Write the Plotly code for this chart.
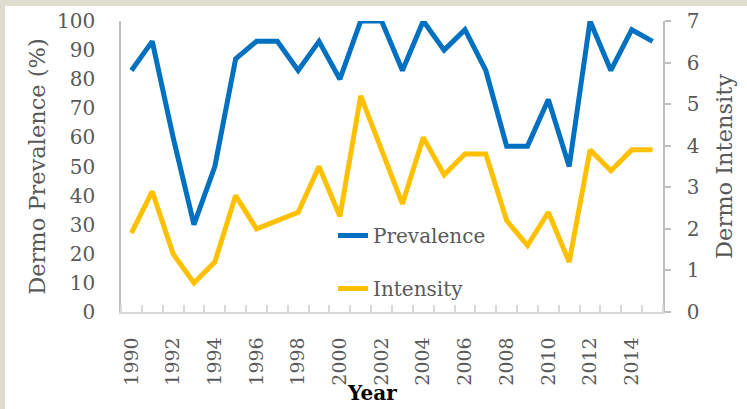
import plotly.graph_objects as go

years = list(range(1990, 2016))
prevalence = [83, 93, 60, 30, 50, 87, 93, 93, 83, 93, 80, 100, 100,
              83, 100, 90, 97, 83, 57, 57, 73, 50, 100, 83, 97, 93]
intensity = [1.9, 2.9, 1.4, 0.7, 1.2, 2.8, 2.0, 2.2, 2.4, 3.5, 2.3, 5.2, 3.9,
             2.6, 4.2, 3.3, 3.8, 3.8, 2.2, 1.6, 2.4, 1.2, 3.9, 3.4, 3.9, 3.9]
x_labels = [str(y) for y in range(1990, 2016, 2)]

FONT = "DejaVu Serif"
GRAY_TXT = "#595959"
BLUE = "#0070C0"
YELLOW = "#FFC000"
FRAME = "#DEDDD0"

fig = go.Figure()
fig.add_trace(go.Scatter(x=years, y=prevalence, name="Prevalence", mode="lines",
                         line=dict(color=BLUE, width=5), legendgroup="a", yaxis="y"))
fig.add_trace(go.Scatter(x=years, y=intensity, name="Intensity", mode="lines",
                         line=dict(color=YELLOW, width=5), legendgroup="b", yaxis="y2"))

L, R, T, B = 121, 84, 21, 97
W, H = 747, 409
pw, ph = W - L - R, H - T - B

def px2x(px):
    return (px - L) / pw

def py2y(py):
    return (H - B - py) / ph

fig.update_layout(
    width=W, height=H,
    margin=dict(l=L, r=R, t=T, b=B, autoexpand=False),
    paper_bgcolor="white",
    plot_bgcolor="white",
    font=dict(family=FONT, color=GRAY_TXT, size=19),
    showlegend=True,
    legend=dict(x=px2x(333), y=py2y(216), xanchor="left", yanchor="top",
                bgcolor="rgba(0,0,0,0)", font=dict(size=20, color=GRAY_TXT),
                tracegroupgap=24, traceorder="grouped"),
    shapes=[
        dict(type="rect", xref="paper", yref="paper", layer="below",
             x0=px2x(-20), x1=px2x(W + 20), y0=py2y(6), y1=py2y(-20),
             fillcolor=FRAME, line=dict(width=0)),
        dict(type="rect", xref="paper", yref="paper", layer="below",
             x0=px2x(-20), x1=px2x(5), y0=py2y(H + 20), y1=py2y(-20),
             fillcolor=FRAME, line=dict(width=0)),
    ],
    xaxis=dict(
        range=[1989.5, 2015.5], tickmode="array", automargin=False,
        tickvals=list(range(1990, 2016, 2)), ticktext=x_labels,
        ticks="", tickangle=-90, showgrid=False, zeroline=False,
        showline=True, linecolor="#D9D9D9", linewidth=1.5,
        tickfont=dict(size=19, color=GRAY_TXT), ticklabelstandoff=16,
        minor=dict(tick0=1989.5, dtick=1, ticks="inside", ticklen=7,
                   tickcolor="#D9D9D9", tickwidth=1.5, showgrid=False),
    ),
    xaxis2=dict(
        range=[1989.5, 2015.5], overlaying="x", anchor="y", side="bottom",
        tick0=1989.5, dtick=1, ticks="outside", ticklen=3, tickcolor="#D9D9D9",
        tickwidth=1.5, showticklabels=False, showgrid=False, zeroline=False,
        showline=False, automargin=False,
    ),
    yaxis=dict(
        range=[0, 100], dtick=10, showgrid=False, zeroline=False, automargin=False,
        showline=True, linecolor="#BFBFBF", linewidth=1.5, ticks="",
        tickfont=dict(size=20, color=GRAY_TXT), ticklabelstandoff=20,
        title=dict(text="Dermo Prevalence (%)", standoff=5,
                   font=dict(size=22.5, color=GRAY_TXT)),
    ),
    yaxis2=dict(
        range=[0, 7], dtick=1, overlaying="y", side="right", anchor="x",
        automargin=False,
        showgrid=False, zeroline=False, showline=True, linecolor="#BFBFBF",
        linewidth=1.5, ticks="outside", ticklen=6, tickcolor="#BFBFBF",
        tickwidth=1.5, tickfont=dict(size=20, color=GRAY_TXT), ticklabelstandoff=12,
        title=dict(text="Dermo Intensity", standoff=18,
                   font=dict(size=22.5, color=GRAY_TXT)),
    ),
    annotations=[dict(text="<b>Year</b>", xref="paper", yref="paper",
                      x=px2x(372), y=py2y(393), showarrow=False,
                      font=dict(size=20, color="black", family=FONT),
                      xanchor="center", yanchor="middle")],
)

fig.write_html("out.html", config={"displayModeBar": False},
               post_script="document.body.style.margin='0';document.body.style.padding='0';document.body.style.overflow='hidden';")
